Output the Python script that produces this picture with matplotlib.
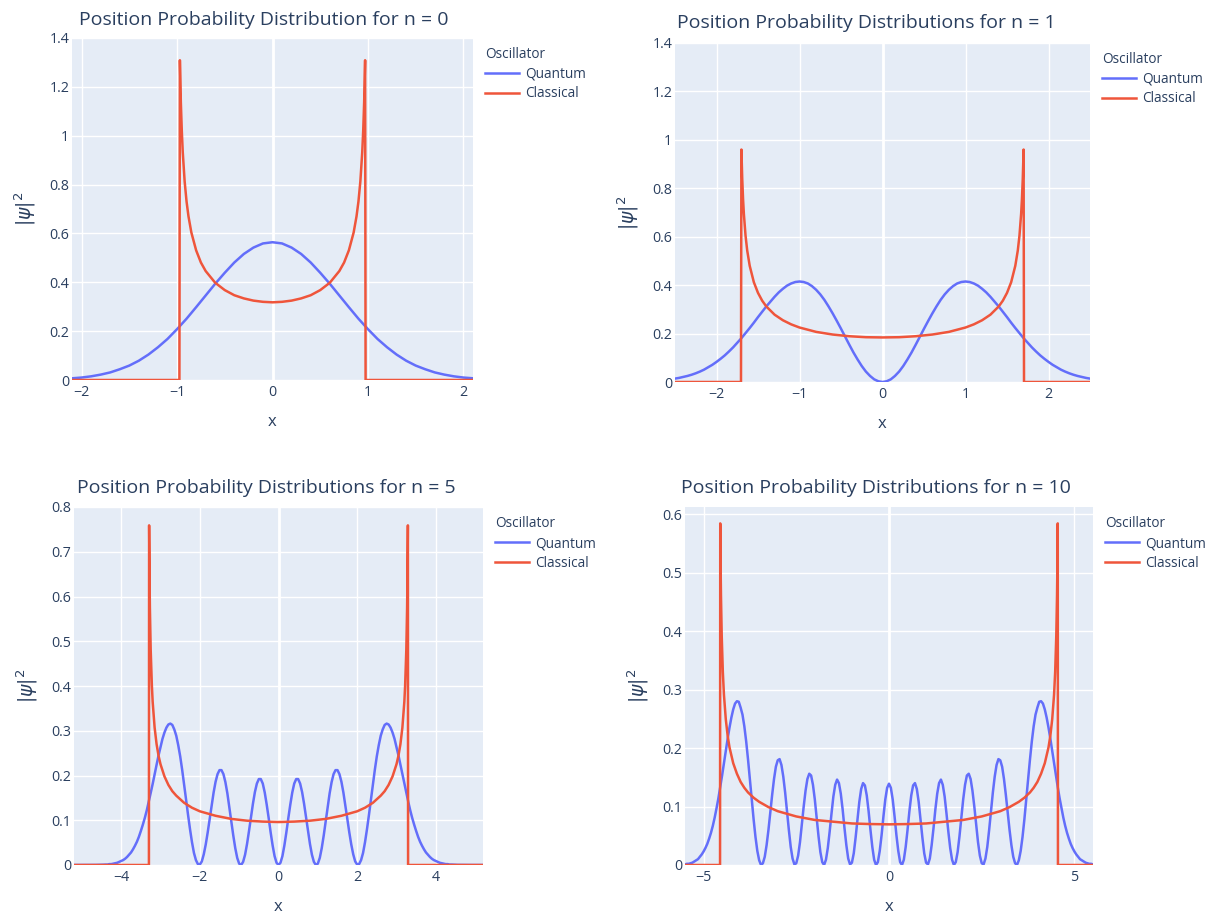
import numpy as np
import matplotlib.pyplot as plt

FIG_W, FIG_H = 1216, 917
QUANTUM_COLOR = "#636EFA"
CLASSICAL_COLOR = "#EF553B"
TEXT_COLOR = "#2a3f5f"
PLOT_BG = "#E5ECF6"

plt.rcParams["font.family"] = ["Open Sans", "DejaVu Sans"]
plt.rcParams["mathtext.fontset"] = "dejavusans"

# ---- data ----
TITLES = [
	"Position Probability Distribution for n = 0",
	"Position Probability Distributions for n = 1",
	"Position Probability Distributions for n = 5",
	"Position Probability Distributions for n = 10",
]

# quantum |psi|^2 sampled on an even x grid (start, stop, count)
QUANTUM_GRID_0 = (-2.1, 2.1, 43)
QUANTUM_0 = [
	0.007, 0.010, 0.015, 0.022, 0.031, 0.044, 0.059, 0.079, 0.104, 0.134,
	0.168, 0.208, 0.251, 0.298, 0.346, 0.394, 0.439, 0.481, 0.516, 0.542,
	0.559, 0.564, 0.559,
	0.542, 0.516, 0.481, 0.439, 0.394, 0.346, 0.298, 0.251, 0.208,
	0.168, 0.134, 0.104, 0.079, 0.059, 0.044, 0.031, 0.022, 0.015, 0.010, 0.007,
]

QUANTUM_GRID_1 = (-2.5, 2.5, 101)
QUANTUM_1 = [
	0.014, 0.017, 0.021, 0.025, 0.030, 0.036, 0.043, 0.051, 0.061, 0.071,
	0.083, 0.096, 0.110, 0.126, 0.143, 0.162, 0.181, 0.202, 0.223, 0.245,
	0.268, 0.290, 0.312, 0.332, 0.352, 0.370, 0.385, 0.398, 0.407, 0.413,
	0.415, 0.413, 0.407, 0.396, 0.381, 0.362, 0.339, 0.312, 0.283, 0.252,
	0.220, 0.187, 0.154, 0.122, 0.093, 0.066, 0.043, 0.025, 0.011, 0.003,
	0.000,
	0.003, 0.011, 0.025, 0.043, 0.066, 0.093, 0.122, 0.154, 0.187, 0.220,
	0.252, 0.283, 0.312, 0.339, 0.362, 0.381, 0.396, 0.407, 0.413, 0.415,
	0.413, 0.407, 0.398, 0.385, 0.370, 0.352, 0.332, 0.312, 0.290, 0.268,
	0.245, 0.223, 0.202, 0.181, 0.162, 0.143, 0.126, 0.110, 0.096, 0.083,
	0.071, 0.061, 0.051, 0.043, 0.036, 0.030, 0.025, 0.021, 0.017, 0.014,
]

QUANTUM_GRID_5 = (-5.2, 5.2, 209)
QUANTUM_5 = [
	0.0, 0.0, 0.0, 0.0, 0.0, 0.0, 0.0, 0.0, 0.0001, 0.0001,
	0.0001, 0.0002, 0.0003, 0.0003, 0.0005, 0.0007, 0.001, 0.001, 0.002, 0.002,
	0.003, 0.004, 0.005, 0.007, 0.009, 0.011, 0.014, 0.018, 0.023, 0.028,
	0.035, 0.043, 0.052, 0.063, 0.076, 0.090, 0.105, 0.122, 0.141, 0.161,
	0.181, 0.203, 0.224, 0.245, 0.264, 0.282, 0.296, 0.307, 0.314, 0.316,
	0.313, 0.303, 0.289, 0.268, 0.243, 0.213, 0.180, 0.146, 0.112, 0.080,
	0.051, 0.027, 0.011, 0.002, 0.001, 0.008, 0.024, 0.046, 0.073, 0.103,
	0.133, 0.162, 0.186, 0.203, 0.212, 0.212, 0.203, 0.185, 0.160, 0.129,
	0.097, 0.066, 0.038, 0.016, 0.003, 0.000, 0.007, 0.023, 0.047, 0.076,
	0.107, 0.137, 0.163, 0.182, 0.192, 0.192, 0.182, 0.162, 0.135, 0.105,
	0.073, 0.044, 0.020, 0.005,
	0.000,
	0.005, 0.020, 0.044, 0.073, 0.105, 0.135, 0.162, 0.182, 0.192, 0.192,
	0.182, 0.163, 0.137, 0.107, 0.076, 0.047, 0.023, 0.007, 0.000, 0.003,
	0.016, 0.038, 0.066, 0.097, 0.129, 0.160, 0.185, 0.203, 0.212, 0.212,
	0.203, 0.186, 0.162, 0.133, 0.103, 0.073, 0.046, 0.024, 0.008, 0.001,
	0.002, 0.011, 0.027, 0.051, 0.080, 0.112, 0.146, 0.180, 0.213, 0.243,
	0.268, 0.289, 0.303, 0.313, 0.316, 0.314, 0.307, 0.296, 0.282, 0.264,
	0.245, 0.224, 0.203, 0.181, 0.161, 0.141, 0.122, 0.105, 0.090, 0.076,
	0.063, 0.052, 0.043, 0.035, 0.028, 0.023, 0.018, 0.014, 0.011, 0.009,
	0.007, 0.005, 0.004, 0.003, 0.002, 0.002, 0.001, 0.001, 0.0007, 0.0005,
	0.0003, 0.0003, 0.0002, 0.0001, 0.0001, 0.0001, 0.0, 0.0, 0.0, 0.0,
	0.0, 0.0, 0.0, 0.0,
]

QUANTUM_GRID_10 = (-5.5, 5.5, 221)
QUANTUM_10 = [
	0.001, 0.002, 0.002, 0.003, 0.004, 0.006, 0.008, 0.010, 0.014, 0.018,
	0.023, 0.029, 0.036, 0.045, 0.055, 0.067, 0.081, 0.097, 0.114, 0.133,
	0.153, 0.174, 0.195, 0.216, 0.235, 0.252, 0.266, 0.276, 0.280, 0.279,
	0.269, 0.257, 0.237, 0.211, 0.180, 0.146, 0.112, 0.078, 0.048, 0.024,
	0.008, 0.000, 0.003, 0.014, 0.034, 0.060, 0.090, 0.120, 0.147, 0.168,
	0.179, 0.181, 0.171, 0.151, 0.124, 0.092, 0.060, 0.031, 0.011, 0.001,
	0.003, 0.016, 0.039, 0.069, 0.100, 0.127, 0.147, 0.156, 0.153, 0.137,
	0.112, 0.081, 0.049, 0.022, 0.005, 0.000, 0.009, 0.029, 0.057, 0.088,
	0.117, 0.137, 0.146, 0.140, 0.122, 0.095, 0.063, 0.034, 0.011, 0.001,
	0.004, 0.020, 0.047, 0.078, 0.108, 0.130, 0.140, 0.136, 0.119, 0.092,
	0.060, 0.031, 0.009, 0.000, 0.005, 0.024, 0.051, 0.083, 0.112, 0.132,
	0.139,
	0.132, 0.112, 0.083, 0.051, 0.024, 0.005, 0.000, 0.009, 0.031, 0.060,
	0.092, 0.119, 0.136, 0.140, 0.130, 0.108, 0.078, 0.047, 0.020, 0.004,
	0.001, 0.011, 0.034, 0.063, 0.095, 0.122, 0.140, 0.146, 0.137, 0.117,
	0.088, 0.057, 0.029, 0.009, 0.000, 0.005, 0.022, 0.049, 0.081, 0.112,
	0.137, 0.153, 0.156, 0.147, 0.127, 0.100, 0.069, 0.039, 0.016, 0.003,
	0.001, 0.011, 0.031, 0.060, 0.092, 0.124, 0.151, 0.171, 0.181, 0.179,
	0.168, 0.147, 0.120, 0.090, 0.060, 0.034, 0.014, 0.003, 0.000, 0.008,
	0.024, 0.048, 0.078, 0.112, 0.146, 0.180, 0.211, 0.237, 0.257, 0.269,
	0.279, 0.280, 0.276, 0.266, 0.252, 0.235, 0.216, 0.195, 0.174, 0.153,
	0.133, 0.114, 0.097, 0.081, 0.067, 0.055, 0.045, 0.036, 0.029, 0.023,
	0.018, 0.014, 0.010, 0.008, 0.006, 0.004, 0.003, 0.002, 0.002, 0.001,
]

# classical density, zero outside the turning points
CLASSICAL_X_0 = [
	-2.1, -0.975, -0.97, -0.96, -0.95, -0.94, -0.92, -0.9, -0.88, -0.85, -0.8,
	-0.75, -0.7, -0.6, -0.5, -0.4, -0.3, -0.2, -0.1, 0.0,
	0.1, 0.2, 0.3, 0.4, 0.5, 0.6, 0.7, 0.75, 0.8, 0.85, 0.88, 0.9, 0.92,
	0.94, 0.95, 0.96, 0.97, 0.975, 2.1,
]
CLASSICAL_Y_0 = [
	0, 0, 1.309, 1.137, 1.020, 0.933, 0.812, 0.730, 0.670, 0.604, 0.531,
	0.481, 0.446, 0.398, 0.368, 0.347, 0.334, 0.325, 0.320, 0.318,
	0.320, 0.325, 0.334, 0.347, 0.368, 0.398, 0.446, 0.481, 0.531, 0.604,
	0.670, 0.730, 0.812, 0.933, 1.020, 1.137, 1.309, 0, 0,
]

CLASSICAL_X_1 = [
	-2.5, -1.705, -1.70, -1.69, -1.68, -1.67, -1.65, -1.63, -1.6, -1.55, -1.5,
	-1.45, -1.4, -1.3, -1.2, -1.1, -1.0, -0.8, -0.6, -0.4, -0.2, 0.0,
	0.2, 0.4, 0.6, 0.8, 1.0, 1.1, 1.2, 1.3, 1.4, 1.45, 1.5, 1.55, 1.6,
	1.63, 1.65, 1.67, 1.68, 1.69, 1.70, 1.705, 2.5,
]
CLASSICAL_Y_1 = [
	0, 0, 0.960, 0.839, 0.755, 0.693, 0.604, 0.543, 0.480, 0.412, 0.368,
	0.336, 0.312, 0.278, 0.255, 0.238, 0.225, 0.207, 0.196, 0.189, 0.185, 0.184,
	0.185, 0.189, 0.196, 0.207, 0.225, 0.238, 0.255, 0.278, 0.312, 0.336,
	0.368, 0.412, 0.480, 0.543, 0.604, 0.693, 0.755, 0.839, 0.960, 0, 0,
]

CLASSICAL_X_5 = [
	-5.2, -3.295, -3.29, -3.28, -3.27, -3.25, -3.22, -3.2, -3.15, -3.1, -3.05,
	-3.0, -2.9, -2.8, -2.7, -2.6, -2.4, -2.2, -2.0, -1.6, -1.2, -0.8, -0.4, 0.0,
	0.4, 0.8, 1.2, 1.6, 2.0, 2.2, 2.4, 2.6, 2.7, 2.8, 2.9, 3.0, 3.05, 3.1,
	3.15, 3.2, 3.22, 3.25, 3.27, 3.28, 3.29, 3.295, 5.2,
]
CLASSICAL_Y_5 = [
	0, 0, 0.759, 0.648, 0.574, 0.481, 0.401, 0.365, 0.307, 0.270, 0.244,
	0.225, 0.198, 0.179, 0.165, 0.155, 0.139, 0.128, 0.120, 0.110, 0.103,
	0.099, 0.097, 0.096,
	0.097, 0.099, 0.103, 0.110, 0.120, 0.128, 0.139, 0.155, 0.165, 0.179,
	0.198, 0.225, 0.244, 0.270, 0.307, 0.365, 0.401, 0.481, 0.574, 0.648,
	0.759, 0, 0,
]

CLASSICAL_X_10 = [
	-5.5, -4.555, -4.55, -4.54, -4.53, -4.51, -4.48, -4.45, -4.4, -4.35, -4.3,
	-4.2, -4.1, -4.0, -3.9, -3.8, -3.65, -3.5, -3.25, -3.0, -2.5, -2.0, -1.5,
	-1.0, -0.5, 0.0,
	0.5, 1.0, 1.5, 2.0, 2.5, 3.0, 3.25, 3.5, 3.65, 3.8, 3.9, 4.0, 4.1, 4.2,
	4.3, 4.35, 4.4, 4.45, 4.48, 4.51, 4.53, 4.54, 4.55, 4.555, 5.5,
]
CLASSICAL_Y_10 = [
	0, 0, 0.584, 0.511, 0.460, 0.392, 0.330, 0.291, 0.249, 0.221, 0.201,
	0.174, 0.156, 0.142, 0.132, 0.124, 0.115, 0.108, 0.099, 0.092, 0.083,
	0.077, 0.074, 0.071, 0.070, 0.0695,
	0.070, 0.071, 0.074, 0.077, 0.083, 0.092, 0.099, 0.108, 0.115, 0.124,
	0.132, 0.142, 0.156, 0.174, 0.201, 0.221, 0.249, 0.291, 0.330, 0.392,
	0.460, 0.511, 0.584, 0, 0,
]

X_TICKS = [[-2, -1, 0, 1, 2], [-2, -1, 0, 1, 2], [-4, -2, 0, 2, 4], [-5, 0, 5]]
Y_TICKS = [
	[0, 0.2, 0.4, 0.6, 0.8, 1, 1.2, 1.4],
	[0, 0.2, 0.4, 0.6, 0.8, 1, 1.2, 1.4],
	[0, 0.1, 0.2, 0.3, 0.4, 0.5, 0.6, 0.7, 0.8],
	[0, 0.1, 0.2, 0.3, 0.4, 0.5, 0.6],
]
X_LIMITS = [(-2.1, 2.1), (-2.5, 2.5), (-5.2, 5.2), (-5.5, 5.5)]
Y_LIMITS = [(0, 1.4), (0, 1.4), (0, 0.8), (0, 0.612)]

# ---- layout (pixels): plot-area left, top, right, bottom ----
PANEL_BOXES = [
	(72, 38, 473, 380),
	(675, 43, 1090, 382),
	(74, 507, 483, 865),
	(685, 507, 1093, 865),
]
TITLE_POS = [(79, 20), (677, 23), (77, 488), (681, 488)]


def fmt_tick(v: float) -> str:
	return f"{v:g}".replace("-", "\u2212")


def draw_panel(fig, idx, grid, quantum, cx, cy):
	left, top, right, bottom = PANEL_BOXES[idx]
	ax = fig.add_axes([
		left / FIG_W, 1 - bottom / FIG_H,
		(right - left) / FIG_W, (bottom - top) / FIG_H,
	])
	ax.set_facecolor(PLOT_BG)
	for spine in ax.spines.values():
		spine.set_visible(False)

	x = np.linspace(*grid)
	hq, = ax.plot(x, quantum, color=QUANTUM_COLOR, linewidth=1.8, zorder=3)
	hc, = ax.plot(cx, cy, color=CLASSICAL_COLOR, linewidth=1.8, zorder=4)

	ax.set_xlim(*X_LIMITS[idx])
	ax.set_ylim(*Y_LIMITS[idx])
	ax.set_xticks(X_TICKS[idx])
	ax.set_xticklabels([fmt_tick(v) for v in X_TICKS[idx]])
	ax.set_yticks(Y_TICKS[idx])
	ax.set_yticklabels([fmt_tick(v) for v in Y_TICKS[idx]])
	ax.grid(True, color="white", linewidth=1.0)
	ax.set_axisbelow(True)
	ax.axvline(0, color="white", linewidth=2.0, zorder=1)
	ax.tick_params(length=0, labelsize=10.3, labelcolor=TEXT_COLOR)
	ax.tick_params(axis="x", pad=3.5)
	ax.tick_params(axis="y", pad=2)

	ax.set_xlabel("x", fontsize=12, color=TEXT_COLOR, labelpad=10)
	ax.set_ylabel(r"$|\psi|^2$", fontsize=13.5, color=TEXT_COLOR, labelpad=8)

	leg = ax.legend(
		[hq, hc], ["Quantum", "Classical"], title="Oscillator",
		loc="upper left", bbox_to_anchor=(1.03, 0.974), frameon=False,
		alignment="left", fontsize=9.8, title_fontsize=9.8,
		handlelength=2.5, handletextpad=0.45, labelspacing=0.35,
		borderaxespad=0, borderpad=0,
	)
	for text in leg.get_texts():
		text.set_color(TEXT_COLOR)
	leg.get_title().set_color(TEXT_COLOR)

	tx, ty = TITLE_POS[idx]
	fig.text(tx / FIG_W, 1 - ty / FIG_H, TITLES[idx], fontsize=14,
		color=TEXT_COLOR, ha="left", va="center")
	return ax


def main() -> None:
	fig = plt.figure(figsize=(FIG_W / 100, FIG_H / 100), dpi=100)
	fig.patch.set_facecolor("white")

	draw_panel(fig, 0, QUANTUM_GRID_0, QUANTUM_0, CLASSICAL_X_0, CLASSICAL_Y_0)
	draw_panel(fig, 1, QUANTUM_GRID_1, QUANTUM_1, CLASSICAL_X_1, CLASSICAL_Y_1)
	draw_panel(fig, 2, QUANTUM_GRID_5, QUANTUM_5, CLASSICAL_X_5, CLASSICAL_Y_5)
	draw_panel(fig, 3, QUANTUM_GRID_10, QUANTUM_10, CLASSICAL_X_10, CLASSICAL_Y_10)

	fig.savefig("out.png", dpi=100)
	plt.close(fig)


if __name__ == "__main__":
	main()
